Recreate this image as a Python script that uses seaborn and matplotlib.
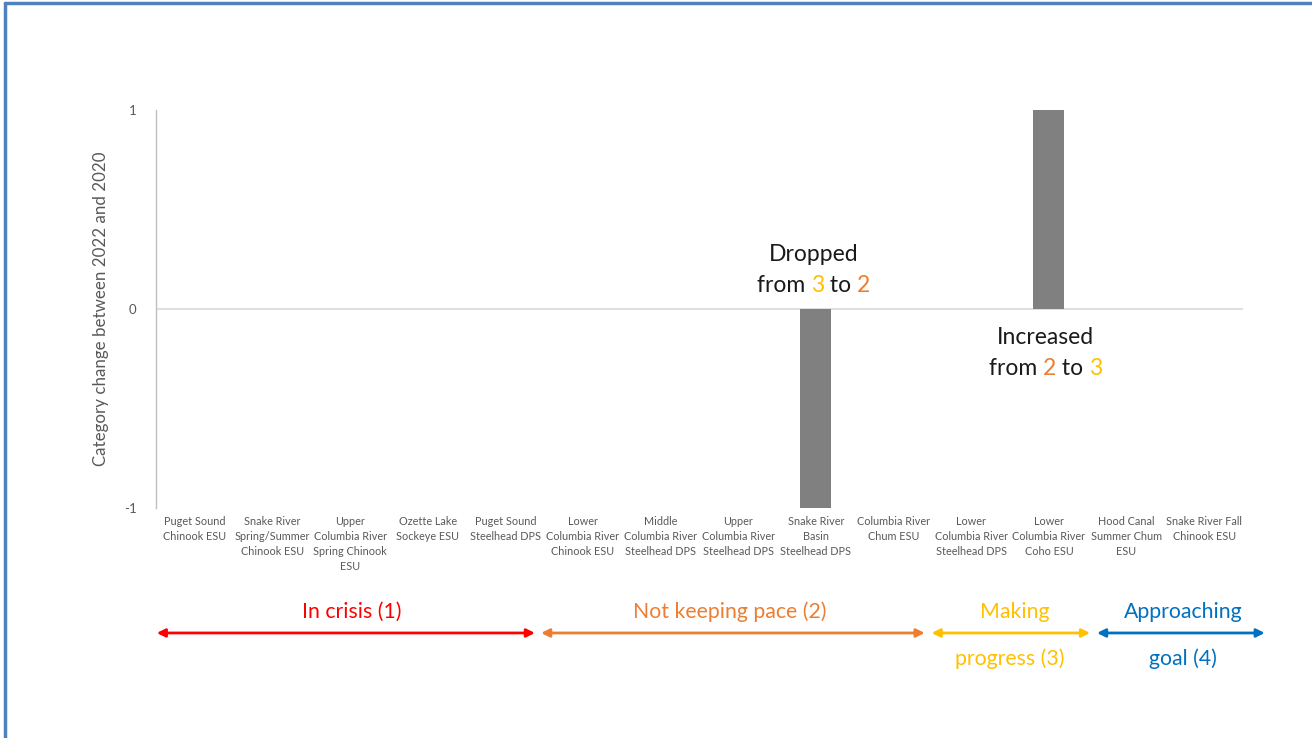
import pandas as pd
import seaborn as sns
import matplotlib.pyplot as plt
from matplotlib.offsetbox import TextArea, HPacker, VPacker, AnnotationBbox
from matplotlib.lines import Line2D
import matplotlib.transforms as mtransforms

# DADOS
especies = [
    "Puget Sound\nChinook ESU",
    "Snake River\nSpring/Summer\nChinook ESU",
    "Upper\nColumbia River\nSpring Chinook\nESU",
    "Ozette Lake\nSockeye ESU",
    "Puget Sound\nSteelhead DPS",
    "Lower\nColumbia River\nChinook ESU",
    "Middle\nColumbia River\nSteelhead DPS",
    "Upper\nColumbia River\nSteelhead DPS",
    "Snake River\nBasin\nSteelhead DPS",
    "Columbia River\nChum ESU",
    "Lower\nColumbia River\nSteelhead DPS",
    "Lower\nColumbia River\nCoho ESU",
    "Hood Canal\nSummer Chum\nESU",
    "Snake River Fall\nChinook ESU",
]
mudanca = [0, 0, 0, 0, 0, 0, 0, 0, -1, 0, 0, 1, 0, 0]

grupos_topo = ["In crisis (1)", "Not keeping pace (2)", "Making", "Approaching"]
grupos_base = ["", "", "progress (3)", "goal (4)"]
cores_grupos = ["#FF0000", "#ED7D31", "#FFC000", "#0070C0"]

#LAYOUT
sns.set_theme(style="white")
plt.rcParams["font.family"] = ["Lato", "DejaVu Sans"]

cinza = "#595959"
fig = plt.figure(figsize=(13.12, 7.38), dpi=100)
ax = fig.add_axes([156 / 1312, 1 - 508 / 738, (1243 - 156) / 1312, 398 / 738])

df = pd.DataFrame({"especie": especies, "mudanca": mudanca})
sns.barplot(data=df, x="especie", y="mudanca", order=especies, color="#808080",
            saturation=1, width=0.4, linewidth=0, ax=ax)

ax.set_ylim(-1, 1)
ax.set_xlim(-0.5, len(especies) - 0.5)
ax.set_yticks([-1, 0, 1])
ax.set_yticklabels(["-1", "0", "1"])
ax.axhline(0, color="#D9D9D9", lw=1.2, zorder=0)
ax.set_xlabel("")
ax.set_ylabel("Category change between 2022 and 2020", fontsize=12.2, color=cinza, labelpad=11)

for lado in ["top", "right", "bottom"]:
    ax.spines[lado].set_visible(False)
ax.spines["left"].set_color("#BFBFBF")
ax.spines["left"].set_linewidth(1)

ax.tick_params(axis="y", length=0, labelsize=9.5, labelcolor=cinza, pad=14)
ax.tick_params(axis="x", length=0, labelsize=7.8, labelcolor=cinza, pad=6)
for rotulo in ax.get_xticklabels():
    rotulo.set_linespacing(1.42)

# anotacoes com cores diferentes
def rotulo_colorido(x, y, titulo, de, para, cor_de, cor_para):
    fs = 16.5
    linha1 = TextArea(titulo, textprops=dict(color="#1a1a1a", fontsize=fs))
    partes = [
        TextArea("from ", textprops=dict(color="#1a1a1a", fontsize=fs)),
        TextArea(de, textprops=dict(color=cor_de, fontsize=fs)),
        TextArea(" to ", textprops=dict(color="#1a1a1a", fontsize=fs)),
        TextArea(para, textprops=dict(color=cor_para, fontsize=fs)),
    ]
    linha2 = HPacker(children=partes, align="baseline", pad=0, sep=0)
    caixa = VPacker(children=[linha1, linha2], align="center", pad=0, sep=7)
    ab = AnnotationBbox(caixa, (x, y), xycoords="data", frameon=False, box_alignment=(0.5, 0.5))
    ax.add_artist(ab)

rotulo_colorido(7.97, 0.195, "Dropped", "3", "2", "#FFC000", "#ED7D31")
rotulo_colorido(10.96, -0.222, "Increased", "2", "3", "#ED7D31", "#FFC000")

# setas dos grupos
trans = mtransforms.blended_transform_factory(ax.transData, ax.transAxes)
extensoes = [(-0.49, 4.38), (4.46, 9.40), (9.49, 11.53), (11.62, 13.78)]
centros_topo = [2.02, 6.89, 10.56, 12.73]
centros_base = [2.02, 6.89, 10.50, 12.73]
y_seta, y_topo, y_base = -0.314, -0.261, -0.378

for i in range(len(grupos_topo)):
    x0, x1 = extensoes[i]
    ax.annotate("", xy=(x1, y_seta), xytext=(x0, y_seta), xycoords=trans, textcoords=trans,
                annotation_clip=False,
                arrowprops=dict(arrowstyle="<|-|>", color=cores_grupos[i], lw=2,
                                mutation_scale=12, shrinkA=0, shrinkB=0))
    ax.text(centros_topo[i], y_topo, grupos_topo[i], transform=trans, ha="center", va="center",
            fontsize=15.3, color=cores_grupos[i])
    if grupos_base[i]:
        ax.text(centros_base[i], y_base, grupos_base[i], transform=trans, ha="center", va="center",
                fontsize=15.3, color=cores_grupos[i])

# moldura azul
fig.add_artist(Line2D([5 / 1312, 5 / 1312], [0, 1 - 3 / 738], transform=fig.transFigure,
                      color="#4F81BD", lw=2.5))
fig.add_artist(Line2D([5 / 1312, 1], [1 - 3 / 738, 1 - 3 / 738], transform=fig.transFigure,
                      color="#4F81BD", lw=2.5))

fig.savefig("out.png", dpi=100)
